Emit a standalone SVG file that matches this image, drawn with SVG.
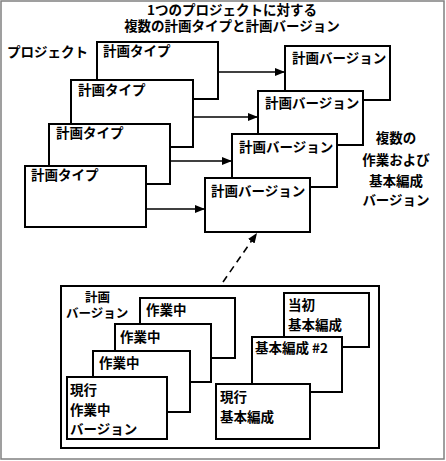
<svg xmlns="http://www.w3.org/2000/svg" width="446" height="461" viewBox="0 0 446 461">
<defs>
<style>
text{font-family:"Noto Sans CJK JP","Liberation Sans",sans-serif;font-weight:bold;font-size:13.5px;fill:#000}
.t{font-size:13.5px}
.s{font-size:12.5px}
.box{fill:#fff;stroke:#000;stroke-width:2}
.ln{fill:none;stroke:#000;stroke-width:1.6}
</style>
<marker id="ah" markerWidth="10" markerHeight="8" refX="10" refY="4" orient="auto" markerUnits="userSpaceOnUse">
<path d="M0,0 L10,4 L0,8 Z" fill="#000"/>
</marker>
</defs>
<rect x="0" y="0" width="446" height="461" fill="#fff"/>
<rect x="1" y="1" width="443" height="458" fill="none" stroke="#808080" stroke-width="1.5"/>
<g id="title">
<text class="t" x="232" y="15" text-anchor="middle">1つのプロジェクトに対する</text>
<text class="t" x="232" y="31" text-anchor="middle">複数の計画タイプと計画バージョン</text>
</g>
<text id="project-label" x="7" y="57">プロジェクト</text>
<g id="plan-type-1"><rect class="box" x="97" y="42" width="121" height="57"/><text x="103" y="56">計画タイプ</text></g>
<g id="plan-type-2"><rect class="box" x="71" y="80" width="122" height="67"/><text x="78" y="95">計画タイプ</text></g>
<g id="plan-type-3"><rect class="box" x="49" y="124" width="121" height="60"/><text x="56" y="138">計画タイプ</text></g>
<g id="plan-type-4"><rect class="box" x="25" y="166" width="121" height="61"/><text x="31" y="180">計画タイプ</text></g>
<g id="plan-version-1"><rect class="box" x="285" y="46" width="105" height="54"/><text x="292" y="63">計画バージョン</text></g>
<g id="plan-version-2"><rect class="box" x="258" y="91" width="105" height="54"/><text x="265" y="108">計画バージョン</text></g>
<g id="plan-version-3"><rect class="box" x="232" y="134" width="105" height="53"/><text x="239" y="152">計画バージョン</text></g>
<g id="plan-version-4"><rect class="box" x="205" y="178" width="105" height="54"/><text x="211" y="196">計画バージョン</text></g>
<g id="versions-label">
<text x="396" y="143" text-anchor="middle">複数の</text>
<text x="396" y="165" text-anchor="middle">作業および</text>
<text x="396" y="186" text-anchor="middle">基本編成</text>
<text x="396" y="205" text-anchor="middle">バージョン</text>
</g>
<g id="connectors">
<line class="ln" x1="218" y1="72" x2="285" y2="72" marker-end="url(#ah)"/>
<line class="ln" x1="193" y1="117" x2="258" y2="117" marker-end="url(#ah)"/>
<line class="ln" x1="170" y1="161" x2="232" y2="161" marker-end="url(#ah)"/>
<line class="ln" x1="146" y1="209" x2="205" y2="209" marker-end="url(#ah)"/>
<line class="ln" x1="223" y1="282" x2="257" y2="233" stroke-dasharray="7,5" marker-end="url(#ah)"/>
</g>
<g id="plan-version-detail">
<rect class="box" x="61" y="286" width="318" height="162"/>
<text class="s" x="85" y="302">計画</text>
<text class="s" x="66" y="318">バージョン</text>
</g>
<g id="working-1"><rect class="box" x="140" y="298" width="95" height="60"/><text x="146" y="315">作業中</text></g>
<g id="working-2"><rect class="box" x="115" y="324" width="96" height="58"/><text x="120" y="342">作業中</text></g>
<g id="working-3"><rect class="box" x="93" y="351" width="97" height="61"/><text x="99" y="368">作業中</text></g>
<g id="working-current"><rect class="box" x="67" y="377" width="100" height="62"/><text x="70" y="395">現行</text><text x="70" y="415">作業中</text><text x="70" y="434">バージョン</text></g>
<g id="baseline-original"><rect class="box" x="284" y="293" width="85" height="54"/><text x="288" y="310">当初</text><text x="288" y="330">基本編成</text></g>
<g id="baseline-2"><rect class="box" x="252" y="337" width="90" height="55"/><text x="255" y="353">基本編成 #2</text></g>
<g id="baseline-current"><rect class="box" x="216" y="384" width="94" height="55"/><text x="220" y="402">現行</text><text x="220" y="422">基本編成</text></g>
</svg>
